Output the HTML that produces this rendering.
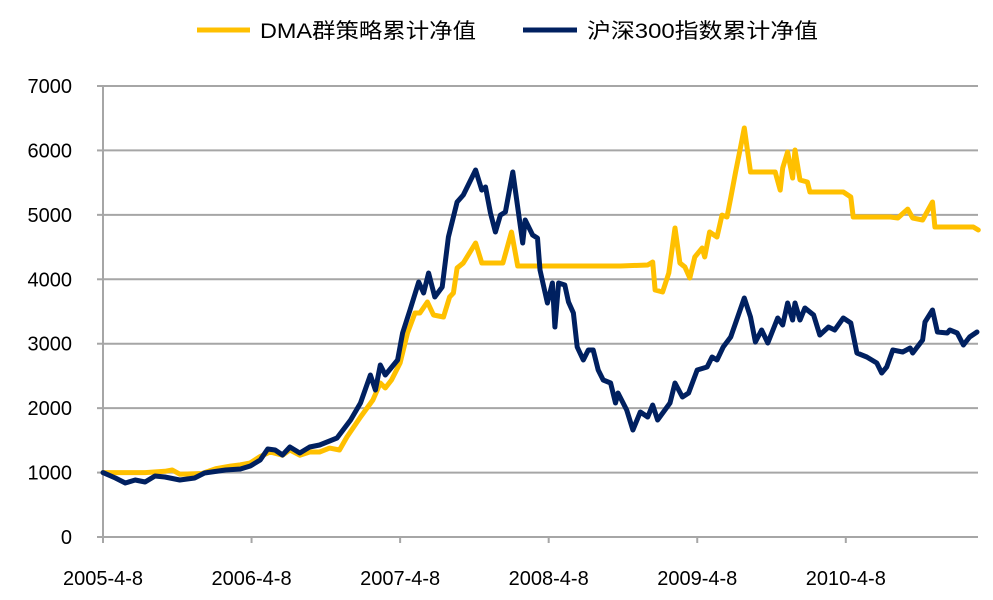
<!DOCTYPE html>
<html><head><meta charset="utf-8"><style>
html,body{margin:0;padding:0;background:#fff;width:993px;height:600px;overflow:hidden}
text{font-family:"Liberation Sans","Noto Sans CJK SC",sans-serif}
</style></head><body>
<svg id="chart" width="993" height="600" xmlns="http://www.w3.org/2000/svg"></svg>
<script>
// months since 2005-4-8 / net value
const xTickLabels=["2005-4-8","2006-4-8","2007-4-8","2008-4-8","2009-4-8","2010-4-8"];
const xTickMonths=[0,12,24,36,48,60];
const yTicks=[0,1000,2000,3000,4000,5000,6000,7000];
const seriesNames=["DMA群策略累计净值","沪深300指数累计净值"];
const dmaMonths=[0,3.4,5.0,5.6,6.2,8.0,9.1,10.3,11.1,11.9,12.7,13.5,14.5,15.1,15.9,16.7,17.5,18.3,19.1,19.7,20.8,21.8,22.4,22.8,23.3,24.0,24.6,25.2,25.6,26.2,26.7,27.5,28.0,28.3,28.6,29.1,30.1,30.6,32.3,33.0,33.5,41.8,44.0,44.4,44.6,45.2,45.7,46.2,46.6,47.0,47.4,47.8,48.4,48.6,49.0,49.6,50.0,50.4,50.7,51.1,51.5,51.8,52.3,54.3,54.7,54.9,55.3,55.7,55.9,56.3,56.9,57.1,59.8,60.4,60.6,63.6,64.2,65.0,65.4,66.2,67.0,67.2,70.3,70.7];
const dmaValues=[1000,1000,1020,1040,975,985,1060,1100,1120,1150,1250,1320,1270,1350,1270,1320,1320,1380,1350,1552,1862,2126,2390,2312,2437,2700,3166,3476,3476,3647,3445,3414,3725,3787,4175,4252,4563,4252,4252,4734,4206,4206,4221,4268,3833,3802,4097,4796,4252,4190,4020,4346,4485,4346,4734,4656,4997,4966,5261,5665,6053,6348,5665,5665,5385,5727,5975,5572,6006,5541,5510,5354,5354,5277,4966,4966,4951,5090,4951,4920,5199,4811,4811,4765];
const csiMonths=[0,1.0,1.8,2.6,3.4,4.2,5.0,6.2,7.4,8.2,9.9,11.1,11.9,12.7,13.3,13.9,14.5,15.1,15.9,16.7,17.5,18.3,18.9,20.0,20.8,21.6,22.0,22.4,22.8,23.8,24.2,24.8,25.5,25.9,26.3,26.8,27.4,27.9,28.6,29.1,30.1,30.6,30.9,31.3,31.7,32.1,32.5,33.1,33.9,34.1,34.7,35.1,35.3,35.9,36.3,36.5,36.8,37.3,37.6,38.0,38.3,38.8,39.2,39.6,40.0,40.4,41.0,41.4,41.6,42.3,42.8,43.4,44.0,44.4,44.8,45.8,46.2,46.8,47.3,48.0,48.8,49.2,49.6,50.1,50.7,51.1,51.8,52.3,52.7,53.2,53.7,54.5,54.9,55.3,55.7,55.9,56.3,56.7,57.4,57.9,58.6,59.1,59.8,60.4,60.9,61.7,62.5,62.9,63.3,63.8,64.6,65.2,65.4,66.2,66.4,67.0,67.4,68.2,68.4,69.0,69.5,70.0,70.6];
const csiValues=[1000,916,838,885,854,947,931,885,916,993,1040,1055,1102,1195,1366,1350,1273,1397,1304,1397,1428,1490,1536,1816,2080,2514,2281,2669,2514,2747,3166,3523,3958,3787,4097,3725,3880,4656,5199,5308,5696,5385,5432,5028,4734,4997,5044,5665,4563,4920,4687,4640,4144,3632,3942,3259,3942,3911,3647,3476,2949,2747,2902,2902,2592,2437,2390,2080,2235,1971,1661,1940,1862,2049,1816,2080,2390,2173,2235,2592,2638,2794,2747,2949,3104,3321,3709,3414,3026,3213,3011,3399,3290,3632,3368,3632,3368,3554,3445,3135,3259,3213,3399,3321,2856,2794,2700,2545,2638,2902,2871,2933,2856,3057,3337,3523,3182,3166,3213,3166,2980,3104,3182];

const NS="http://www.w3.org/2000/svg";
const svg=document.getElementById('chart');
const X0=103,PX_PER_MONTH=12.38,XEND=978,Y0=537,Ytop=86,YMAX=7000;
const xs=m=>X0+m*PX_PER_MONTH;
const ys=v=>Y0-(v/YMAX)*(Y0-Ytop);
function mk(tag,attrs){const e=document.createElementNS(NS,tag);for(const k in attrs)e.setAttribute(k,attrs[k]);svg.appendChild(e);return e;}

yTicks.forEach(v=>{
  if(v>0){const g=mk('line',{x1:X0,x2:XEND,y1:ys(v),y2:ys(v),stroke:'#a6a6a6','stroke-width':2});
  
  }
  const tk=mk('line',{x1:X0-6,x2:X0,y1:ys(v),y2:ys(v),stroke:'#a6a6a6','stroke-width':2});
  
  
  const t=mk('text',{x:72,y:ys(v)+7,'text-anchor':'end','font-size':20,fill:'#000'});
  t.textContent=v;
  
  
});
const ya=mk('line',{x1:X0,x2:X0,y1:Ytop,y2:Y0,stroke:'#a6a6a6','stroke-width':2});


const xa=mk('line',{x1:X0,x2:XEND,y1:Y0,y2:Y0,stroke:'#a6a6a6','stroke-width':2});


xTickMonths.forEach((m,i)=>{
  const tk=mk('line',{x1:xs(m),x2:xs(m),y1:Y0,y2:Y0+6,stroke:'#a6a6a6','stroke-width':2});
  
  
  const t=mk('text',{x:xs(m),y:585,'text-anchor':'middle','font-size':20,fill:'#000'});
  t.textContent=xTickLabels[i];
  
  
});
function line(ms,vs,color,name){
  const d=ms.map((m,i)=>(i?'L':'M')+xs(m).toFixed(1)+','+ys(vs[i]).toFixed(1)).join('');
  const p=mk('path',{d:d,fill:'none',stroke:color,'stroke-width':5,'stroke-linejoin':'round','stroke-linecap':'round'});
  
  
}
line(dmaMonths,dmaValues,'#ffc000','dma-series-line');
line(csiMonths,csiValues,'#002060','csi300-series-line');

// legend
const l1=mk('line',{x1:197,x2:250,y1:30,y2:30,stroke:'#ffc000','stroke-width':5});


const t1=mk('text',{x:260,y:38,'font-size':21,fill:'#000',textLength:216,lengthAdjust:'spacingAndGlyphs'});
t1.textContent=seriesNames[0];


const l2=mk('line',{x1:523,x2:577,y1:30,y2:30,stroke:'#002060','stroke-width':5});


const t2=mk('text',{x:587,y:38,'font-size':21,fill:'#000',textLength:231,lengthAdjust:'spacingAndGlyphs'});
t2.textContent=seriesNames[1];


</script>
</body></html>
